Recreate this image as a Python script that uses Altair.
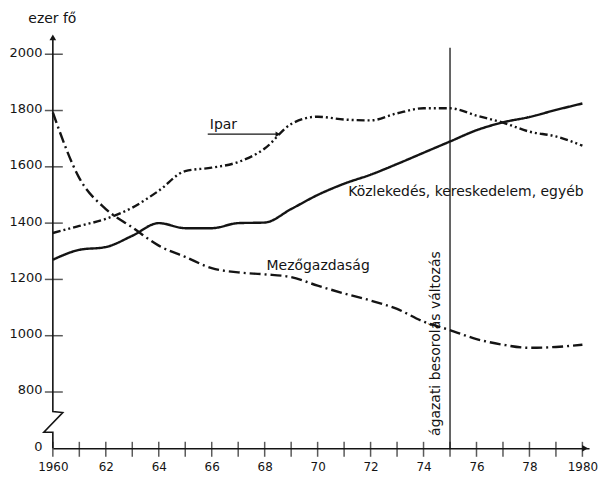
import altair as alt
import pandas as pd

# ---- data ----
years = list(range(1960, 1981))
kozlekedes = [1270, 1305, 1315, 1355, 1400, 1382, 1382, 1400, 1402, 1450, 1500, 1540, 1572, 1610, 1650, 1690, 1730, 1758, 1777, 1802, 1825]
ipar = [1365, 1390, 1415, 1455, 1515, 1585, 1597, 1617, 1665, 1752, 1778, 1768, 1765, 1790, 1808, 1808, 1782, 1757, 1725, 1708, 1675]
mezogazdasag = [1793, 1560, 1450, 1385, 1320, 1280, 1240, 1225, 1218, 1208, 1178, 1150, 1125, 1095, 1050, 1020, 988, 968, 957, 960, 968]

series_names = ["Közlekedés, kereskedelem, egyéb", "Ipar", "Mezőgazdaság"]
series_values = [kozlekedes, ipar, mezogazdasag]

y_tick_values = [600, 800, 1000, 1200, 1400, 1600, 1800, 2000]
x_label_years = list(range(1960, 1981, 2))
change_year = 1975

# axis break (zig-zag) drawn in data units
break_x = [1960, 1960, 1960.375, 1959.66, 1960, 1960]
break_y = [2060, 731, 727, 657, 657, 600]

rows = []
for name, vals in zip(series_names, series_values):
    for yr, v in zip(years, vals):
        rows.append({"year": yr, "value": v, "series": name})
df = pd.DataFrame(rows)

FONT = "DejaVu Sans"
INK = "#141414"

xscale = alt.Scale(domain=[1960, 1980.25], nice=False, zero=False)
yscale = alt.Scale(domain=[600, 2080], nice=False, zero=False)

lines = alt.Chart(df).mark_line(strokeWidth=2.4, color=INK, interpolate="monotone", strokeCap="butt").encode(
    x=alt.X("year:Q", scale=xscale, title=None,
            axis=alt.Axis(values=x_label_years, format="d", ticks=False, grid=False,
                          domainColor=INK, domainWidth=1.6,
                          labelExpr="datum.value == 1960 || datum.value == 1980 ? datum.label : substring(datum.label, 2)",
                          labelFont=FONT, labelFontSize=12, labelColor=INK, labelPadding=13,
                          labelFlush=False)),
    y=alt.Y("value:Q", scale=yscale,
            axis=alt.Axis(values=y_tick_values, format="d", ticks=False, domain=False, grid=False,
                          labelExpr="datum.value == 600 ? '0' : datum.label",
                          labelFont=FONT, labelFontSize=13, labelColor=INK, labelPadding=11,
                          labelOffset=-2, labelFlush=False,
                          title="ezer fő", titleAngle=0, titleX=-1, titleY=-13,
                          titleAlign="center", titleBaseline="middle",
                          titleFont=FONT, titleFontSize=14, titleFontWeight="normal", titleColor=INK)),
    strokeDash=alt.StrokeDash("series:N", legend=None,
                              scale=alt.Scale(domain=series_names,
                                              range=[[1, 0], [8, 3, 2, 3, 2, 3], [11, 4, 2, 4]])),
    detail="series:N",
)

# y axis line with break
brk = pd.DataFrame({"x": break_x, "y": break_y, "i": list(range(len(break_x)))})
yaxis_line = alt.Chart(brk).mark_line(color=INK, strokeWidth=1.6).encode(
    x=alt.X("x:Q", scale=xscale), y=alt.Y("y:Q", scale=yscale), order="i:Q")

# arrows on axes
arrows = pd.DataFrame({"x": [1960, 1980.1], "y": [2060, 600], "shape": ["triangle-up", "triangle-right"]})
arrow_marks = alt.Chart(arrows).mark_point(filled=True, color=INK, size=45, opacity=1).encode(
    x=alt.X("x:Q", scale=xscale), y=alt.Y("y:Q", scale=yscale),
    shape=alt.Shape("shape:N", scale=None))

# x ticks crossing the axis
xt = pd.DataFrame({"year": years})
x_ticks = alt.Chart(xt).mark_tick(orient="vertical", color=INK, thickness=1.5, size=15, yOffset=1).encode(
    x=alt.X("year:Q", scale=xscale), y=alt.datum(600, scale=yscale))

# y ticks crossing the axis
yt = pd.DataFrame({"v": y_tick_values[1:]})
y_ticks = alt.Chart(yt).mark_tick(orient="horizontal", color=INK, thickness=1.5, size=18, xOffset=1).encode(
    y=alt.Y("v:Q", scale=yscale), x=alt.datum(1960, scale=xscale))

# vertical line: change of sector classification
vline = alt.Chart(pd.DataFrame({"x": [change_year], "y": [600], "y2": [2023]})).mark_rule(
    color=INK, strokeWidth=1.3).encode(x=alt.X("x:Q", scale=xscale), y=alt.Y("y:Q", scale=yscale), y2="y2:Q")

vtext = alt.Chart(pd.DataFrame({"x": [1974.48], "y": [972], "t": ["ágazati besorolás változás"]})).mark_text(
    angle=270, font=FONT, fontSize=14, color=INK, align="center", baseline="middle").encode(
    x=alt.X("x:Q", scale=xscale), y=alt.Y("y:Q", scale=yscale), text="t:N")

# series labels
lab = pd.DataFrame({
    "x": [1965.93, 1975.6, 1970.02],
    "y": [1733, 1510, 1248],
    "t": ["Ipar", "Közlekedés, kereskedelem, egyéb", "Mezőgazdaság"],
})
labels_left = alt.Chart(lab.iloc[[0]]).mark_text(font=FONT, fontSize=14, color=INK, align="left", baseline="alphabetic").encode(
    x=alt.X("x:Q", scale=xscale), y=alt.Y("y:Q", scale=yscale), text="t:N")
labels_center = alt.Chart(lab.iloc[[1, 2]]).mark_text(font=FONT, fontSize=14, color=INK, align="center", baseline="middle").encode(
    x=alt.X("x:Q", scale=xscale), y=alt.Y("y:Q", scale=yscale), text="t:N")

# arrow pointing at the Ipar line
ipar_arrow = alt.Chart(pd.DataFrame({"x": [1965.85], "x2": [1968.45], "y": [1716]})).mark_rule(
    color=INK, strokeWidth=1.4).encode(x=alt.X("x:Q", scale=xscale), x2="x2:Q", y=alt.Y("y:Q", scale=yscale))
ipar_head = alt.Chart(pd.DataFrame({"x": [1968.5], "y": [1716]})).mark_point(
    shape="triangle-right", filled=True, color=INK, size=30, opacity=1).encode(
    x=alt.X("x:Q", scale=xscale), y=alt.Y("y:Q", scale=yscale))

chart = alt.layer(
    lines, yaxis_line, arrow_marks, x_ticks, y_ticks, vline, vtext,
    labels_left, labels_center, ipar_arrow, ipar_head
).properties(
    width=538, height=418,
    autosize=alt.AutoSizeParams(type="none"),
    padding={"left": 45, "top": 23, "right": 9, "bottom": 28},
    background="white",
).configure_view(stroke=None)

chart.save("out.html", embed_options={"renderer": "svg", "actions": False})
